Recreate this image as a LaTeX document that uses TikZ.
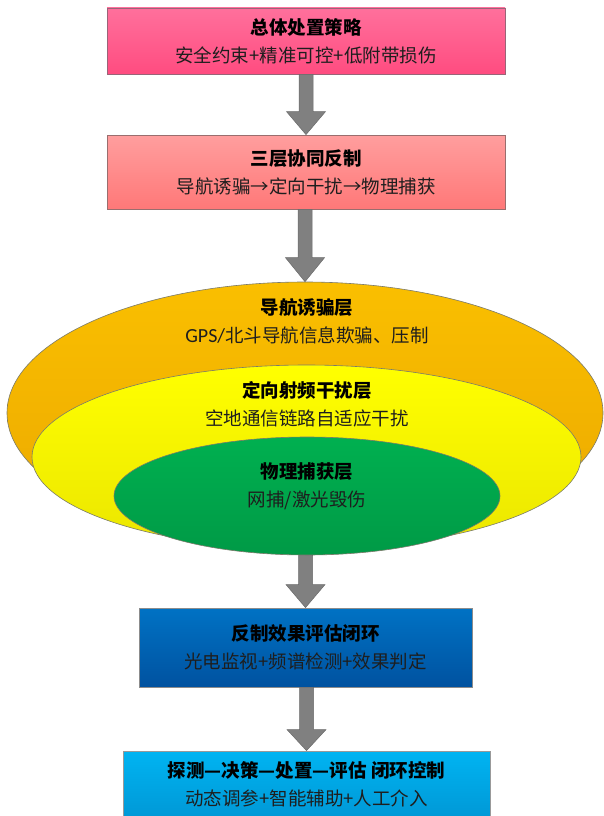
\documentclass[tikz,border=0pt]{standalone}
\usepackage{fontspec}
\setmainfont{Noto Sans CJK SC}
\newfontfamily\latf{Carlito}
\usetikzlibrary{calc,shapes.geometric}
\definecolor{pinkA}{HTML}{FF709C}
\definecolor{pinkB}{HTML}{FF4C80}
\definecolor{pinkD}{HTML}{9A6478}
\definecolor{salA}{HTML}{FF9E9E}
\definecolor{salB}{HTML}{FF7878}
\definecolor{salD}{HTML}{9A6E6E}
\definecolor{orA}{HTML}{FABF00}
\definecolor{orB}{HTML}{EBA800}
\definecolor{yeA}{HTML}{FFFF00}
\definecolor{yeB}{HTML}{EBE600}
\definecolor{grA}{HTML}{00B050}
\definecolor{grB}{HTML}{009A46}
\definecolor{blA}{HTML}{0072C4}
\definecolor{blB}{HTML}{0052A0}
\definecolor{cyA}{HTML}{00B4F2}
\definecolor{cyB}{HTML}{0098D6}
\definecolor{edgeC}{HTML}{7A7A6A}
\definecolor{arrF}{HTML}{808080}
\definecolor{arrD}{HTML}{6A6A6A}
\definecolor{subT}{HTML}{1E1E1E}
\newcommand\fatarrow[3]{%
  \filldraw[fatarr] ($(#2|-#1)+(-7,0)$) -- ($(#2)+(-7,-#3)$) -- ($(#2)+(-19.5,-#3)$) -- (#2)
    -- ($(#2)+(19.5,-#3)$) -- ($(#2)+(7,-#3)$) -- ($(#2|-#1)+(7,0)$) -- cycle;}
\newcommand\ttl[1]{\textbf{#1}}
\newcommand\subl[1]{{\color{subT}#1}}
\begin{document}
\begin{tikzpicture}[x=1pt,y=-1pt,
  box/.style={rectangle, line width=0.8pt, align=center, inner sep=0pt,
    font=\fontsize{18.5}{28}\selectfont},
  lay/.style={ellipse, draw=edgeC, line width=0.6pt, inner sep=0pt},
  laytext/.style={align=center, inner sep=0pt, font=\fontsize{18.5}{28}\selectfont},
  fatarr/.style={fill=arrF, draw=arrD, line width=0.5pt, line join=miter}]
\useasboundingbox (0,0) rectangle (603,816);

% boxes
\node[box, minimum width=398pt, minimum height=66pt, top color=pinkA, bottom color=pinkB, draw=pinkD]
  (b1) at (306,41) {\ttl{总体处置策略}\\\subl{安全约束+精准可控+低附带损伤}};
\node[box, minimum width=398pt, minimum height=74pt, top color=salA, bottom color=salB, draw=salD]
  (b2) at (306,172) {\ttl{三层协同反制}\\\subl{导航诱骗→定向干扰→物理捕获}};

% layered ellipses
\node[lay, minimum width=596pt, minimum height=262pt, top color=orA, bottom color=orB]
  (L1) at (305,413) {};
\node[lay, minimum width=549pt, minimum height=184pt, top color=yeA, bottom color=yeB]
  (L2) at (306.5,457) {};
\node[lay, minimum width=386pt, minimum height=118pt, top color=grA, bottom color=grB]
  (L3) at (307,496) {};
\node[laytext] (t1) at (307,321.5) {\ttl{导航诱骗层}\\\subl{{\latf\fontsize{20}{28}\selectfont GPS/}北斗导航信息欺骗、压制}};
\node[laytext] (t2) at (307,404.5) {\ttl{定向射频干扰层}\\\subl{空地通信链路自适应干扰}};
\node[laytext] (t3) at (307,486.5) {\ttl{物理捕获层}\\\subl{网捕/激光毁伤}};

\node[box, minimum width=333pt, minimum height=79pt, top color=blA, bottom color=blB, draw=black!45]
  (b4) at (305.5,647.5) {\ttl{反制效果评估闭环}\\\subl{光电监视+频谱检测+效果判定}};
\node[box, minimum width=367pt, minimum height=67pt, top color=cyA, bottom color=cyB, draw=black!40]
  (b5) at (306.5,784.5) {\ttl{探测—决策—处置—评估 闭环控制}\\\subl{动态调参+智能辅助+人工介入}};

% connectors
\fatarrow{b1.south}{b2.north}{23}
\fatarrow{b2.south}{L1.north}{24}
\fatarrow{L3.south}{b4.north}{23}
\fatarrow{b4.south}{b5.north}{21}
\end{tikzpicture}
\end{document}
